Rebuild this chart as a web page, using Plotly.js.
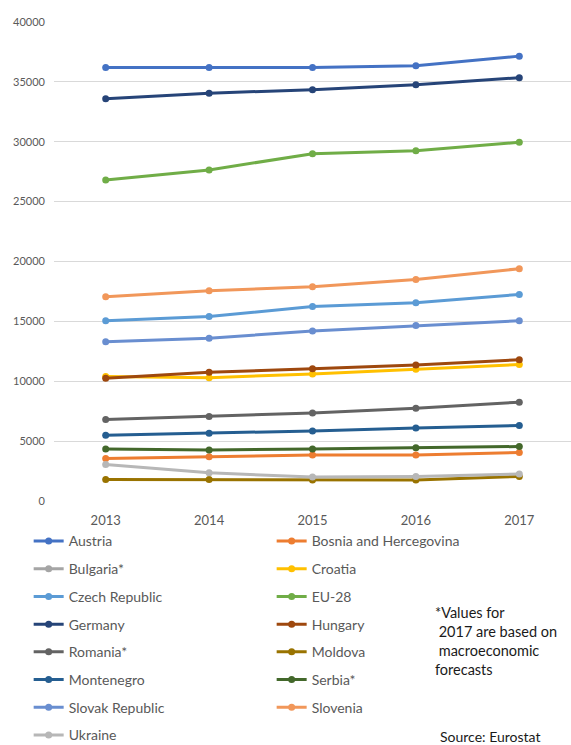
<!DOCTYPE html>
<html>
<head>
<meta charset="utf-8">
<script src="https://cdn.plot.ly/plotly-3.0.1.min.js"></script>
<style>
html,body{margin:0;padding:0;background:#fff;}
#chart{width:571px;height:745px;}
</style>
</head>
<body>
<div id="chart"></div>
<script>
const years = ["2013", "2014", "2015", "2016", "2017"];

const austria     = [36200, 36200, 36200, 36350, 37150];
const bosnia      = [3550, 3700, 3850, 3850, 4050];
const bulgaria    = [null, null, null, null, null];
const croatia     = [10400, 10300, 10600, 11000, 11400];
const czech       = [15050, 15400, 16250, 16550, 17250];
const eu28        = [26800, 27650, 29000, 29250, 29950];
const germany     = [33600, 34050, 34350, 34750, 35350];
const hungary     = [10250, 10750, 11050, 11350, 11800];
const romania     = [6800, 7050, 7350, 7750, 8250];
const moldova     = [1800, 1800, 1750, 1750, 2050];
const montenegro  = [5500, 5650, 5850, 6100, 6300];
const serbia      = [4350, 4250, 4350, 4450, 4550];
const slovak      = [13300, 13600, 14200, 14650, 15050];
const slovenia    = [17050, 17550, 17900, 18500, 19400];
const ukraine     = [3050, 2350, 2000, 2050, 2250];

const seriesNames = ["Austria", "Bosnia and Hercegovina", "Bulgaria*", "Croatia", "Czech Republic", "EU-28",
  "Germany", "Hungary", "Romania*", "Moldova", "Montenegro", "Serbia*", "Slovak Republic", "Slovenia", "Ukraine"];
const seriesValues = [austria, bosnia, bulgaria, croatia, czech, eu28, germany, hungary, romania, moldova,
  montenegro, serbia, slovak, slovenia, ukraine];
const seriesColors = ["#4472C4", "#ED7D31", "#A5A5A5", "#FFC000", "#5B9BD5", "#70AD47", "#264478", "#9E480E",
  "#636363", "#997300", "#255E91", "#43682B", "#698ED0", "#F1975A", "#B7B7B7"];
const yTicks = [0, 5000, 10000, 15000, 20000, 25000, 30000, 35000, 40000];

const traces = seriesNames.map((name, i) => ({
  type: "scatter",
  mode: "lines+markers",
  name: name,
  x: years,
  y: seriesValues[i],
  line: {color: seriesColors[i], width: 3},
  marker: {color: seriesColors[i], size: 7},
  legend: (i % 2 === 0) ? "legend" : "legend2",
  legendgroup: "g" + i
}));

const FONT = "Lato, 'Open Sans', sans-serif";
const legendCommon = {
  orientation: "v",
  xanchor: "left",
  yanchor: "top",
  y: -0.051,
  tracegroupgap: 6.5,
  bgcolor: "rgba(0,0,0,0)",
  font: {family: FONT, size: 14, color: "#595959"},
  itemwidth: 30
};

const layout = {
  width: 571,
  height: 745,
  margin: {l: 54, r: 0, t: 22, b: 244, autoexpand: false},
  paper_bgcolor: "#ffffff",
  plot_bgcolor: "#ffffff",
  font: {family: FONT, color: "#595959"},
  showlegend: true,
  xaxis: {
    type: "category",
    range: [-0.5, 4.5],
    showgrid: false,
    zeroline: false,
    showline: false,
    ticks: "",
    tickfont: {family: FONT, size: 13, color: "#595959"},
    ticklabelstandoff: 10,
    fixedrange: true
  },
  yaxis: {
    range: [0, 40000],
    tickvals: yTicks,
    tickformat: "d",
    showgrid: true,
    gridcolor: "#d9d9d9",
    gridwidth: 1,
    zeroline: false,
    showline: false,
    ticks: "",
    tickfont: {family: FONT, size: 11, color: "#595959"},
    ticklabelstandoff: 8,
    fixedrange: true
  },
  legend: Object.assign({}, legendCommon, {x: -0.049}),
  legend2: Object.assign({}, legendCommon, {x: 0.421}),
  annotations: [
    {
      xref: "paper", yref: "paper",
      x: 0.733, y: -0.210,
      xanchor: "left", yanchor: "top", align: "left",
      showarrow: false,
      text: "*Values for<br>\u00a02017 are based on<br>\u00a0macroeconomic<br>forecasts",
      font: {family: FONT, size: 14.5, color: "#1a1a1a"}
    },
    {
      xref: "paper", yref: "paper",
      x: 0.745, y: -0.5115,
      xanchor: "left", yanchor: "bottom", align: "left",
      showarrow: false, borderpad: 0,
      text: "Source: Eurostat",
      font: {family: FONT, size: 14, color: "#1a1a1a"}
    }
  ]
};

Plotly.newPlot("chart", traces, layout, {displayModeBar: false, staticPlot: true});
</script>
</body>
</html>
